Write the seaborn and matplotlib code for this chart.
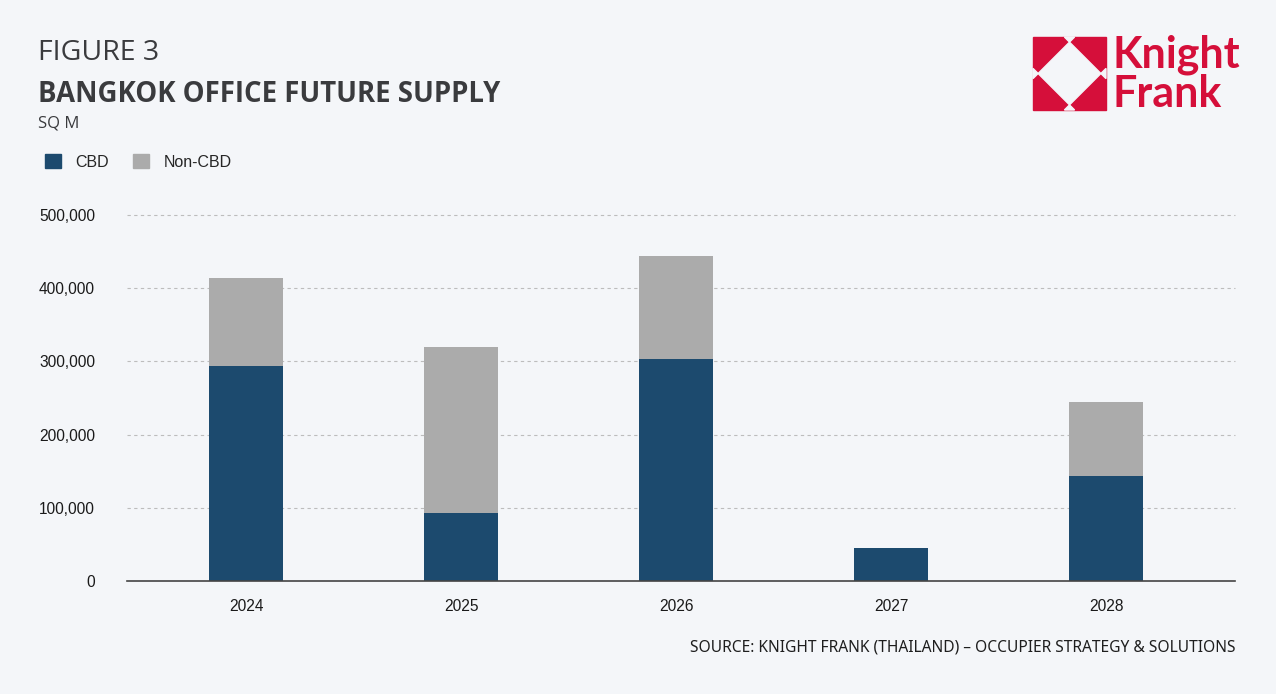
import matplotlib
matplotlib.use('Agg')
import matplotlib.pyplot as plt
import matplotlib.patches as mpatches
import seaborn as sns
import pandas as pd

# Datos (m2)
anios = ['2024', '2025', '2026', '2027', '2028']
cbd = [294000, 93000, 303000, 45000, 143000]
non_cbd = [120000, 227000, 141000, 0, 102000]
y_ticks = [0, 100000, 200000, 300000, 400000, 500000]

FONDO = '#F4F6F9'
AZUL = '#1C4A6E'
GRIS = '#ABABAB'
ROJO = '#D50F3A'
TEXTO = '#3A3B3E'

sns.set_theme(style='white')
plt.rcParams['font.family'] = ['Liberation Sans', 'DejaVu Sans']

df = pd.DataFrame({'anio': anios, 'cbd': cbd, 'non_cbd': non_cbd})
df['total'] = df['cbd'] + df['non_cbd']

fig = plt.figure(figsize=(12.76, 6.94), dpi=100, facecolor=FONDO)
ax = fig.add_axes([127 / 1276, 113 / 694, 1108 / 1276, 366 / 694])
ax.set_facecolor(FONDO)

sns.barplot(data=df, x='anio', y='total', color=GRIS, width=0.34,
            saturation=1, linewidth=0, ax=ax, zorder=3)
sns.barplot(data=df, x='anio', y='cbd', color=AZUL, width=0.34,
            saturation=1, linewidth=0, ax=ax, zorder=4)

ax.set_xlim(-0.5535, 4.6)
ax.set_ylim(0, 500000)
ax.set_yticks(y_ticks)
ax.set_yticklabels([f'{v:,}' for v in y_ticks])
ax.set_xlabel('')
ax.set_ylabel('')
ax.tick_params(axis='both', length=0, labelsize=11.2, colors='#1A1A1A')
ax.tick_params(axis='y', pad=23)
ax.tick_params(axis='x', pad=13)
for y in y_ticks[1:]:
    ax.axhline(y, color='#BDBDBD', linestyle=(0, (3, 3)), linewidth=0.8,
               zorder=1, clip_on=False)
for lado in ['top', 'right', 'left']:
    ax.spines[lado].set_visible(False)
ax.spines['bottom'].set_color('#444444')
ax.spines['bottom'].set_linewidth(1.2)
ax.spines['bottom'].set_zorder(5)

# Titulos
fig.text(38 / 1276, 1 - 53 / 694, 'FIGURE 3', fontsize=20.5, color=TEXTO,
         family=['Open Sans', 'DejaVu Sans'], va='center')
fig.text(38 / 1276, 1 - 94 / 694, 'BANGKOK OFFICE FUTURE SUPPLY', fontsize=19.8,
         color=TEXTO, family=['Open Sans', 'DejaVu Sans'], fontweight='bold', va='center')
fig.text(38 / 1276, 1 - 124 / 694, 'SQ M', fontsize=12, color=TEXTO,
         family=['Open Sans', 'DejaVu Sans'], va='center')

# Leyenda
handles = [mpatches.Patch(color=AZUL, label='CBD'),
           mpatches.Patch(color=GRIS, label='Non-CBD')]
fig.legend(handles=handles, loc='center left', bbox_to_anchor=(31 / 1276, 1 - 162 / 694),
           ncol=2, frameon=False, fontsize=11.5, handlelength=1.0, handleheight=1.0,
           handletextpad=0.9, columnspacing=1.5)

# Fuente
fig.text(1235 / 1276, 1 - 648 / 694,
         'SOURCE: KNIGHT FRANK (THAILAND) \u2013 OCCUPIER STRATEGY & SOLUTIONS',
         fontsize=11.2, color='#1E1E1E', family=['Noto Sans', 'DejaVu Sans'],
         ha='right', va='center')

# Logo Knight Frank
x0, y0, s = 1033, 37, 73
def fp(px, py):
    return (px / 1276, 1 - py / 694)
fig.patches.append(mpatches.Polygon([fp(x0, y0), fp(x0 + s, y0), fp(x0 + s, y0 + s), fp(x0, y0 + s)],
                                    closed=True, color=ROJO, transform=fig.transFigure))
n = 0.07
blanco = [(0.43, 0), (0.57, 0), (0.5, n), (1 - n, 0.5), (1, 0.43), (1, 0.57), (1 - n, 0.5),
          (0.5, 1 - n), (0.57, 1), (0.43, 1), (0.5, 1 - n), (n, 0.5), (0, 0.57), (0, 0.43),
          (n, 0.5), (0.5, n)]
fig.patches.append(mpatches.Polygon([fp(x0 + s * u, y0 + s * v) for u, v in blanco],
                                    closed=True, color=FONDO, transform=fig.transFigure))
fig.text(1112 / 1276, 1 - 55 / 694, 'Knight', fontsize=31, color=ROJO, fontweight='bold',
         family=['Lato', 'DejaVu Sans'], va='center')
fig.text(1112 / 1276, 1 - 94 / 694, 'Frank', fontsize=31, color=ROJO, fontweight='bold',
         family=['Lato', 'DejaVu Sans'], va='center')

fig.savefig('out.png', dpi=100, facecolor=FONDO)
